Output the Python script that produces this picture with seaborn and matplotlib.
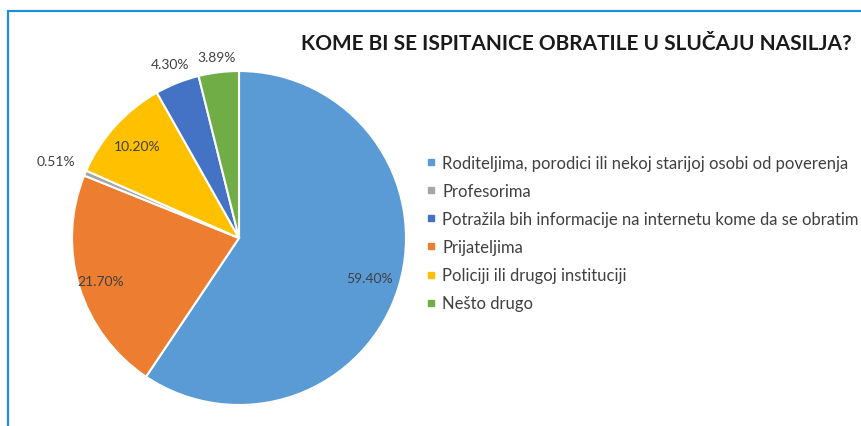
import numpy as np
import matplotlib
matplotlib.use("Agg")
import matplotlib.pyplot as plt
import seaborn as sns
from matplotlib.lines import Line2D
from matplotlib.patches import Rectangle

# data (pie order, clockwise from top)
categories = ["Roditeljima, porodici ili nekoj starijoj osobi od poverenja",
              "Prijateljima",
              "Profesorima",
              "Policiji ili drugoj instituciji",
              "Potražila bih informacije na internetu kome da se obratim",
              "Nešto drugo"]
values = [59.40, 21.70, 0.51, 10.20, 4.30, 3.89]
colors = ["#5B9BD5", "#ED7D31", "#A5A5A5", "#FFC000", "#4472C4", "#70AD47"]
label_radius = [0.82, 0.87, 1.19, 0.82, 1.12, 1.09]

# legend order
legend_order = [0, 2, 4, 1, 3, 5]

title = "KOME BI SE ISPITANICE OBRATILE U SLUČAJU NASILJA?"

sns.set_theme(style="white")
plt.rcParams["font.family"] = ["Lato", "DejaVu Sans"]

fig = plt.figure(figsize=(8.61, 4.27), dpi=100)
fig.patch.set_facecolor("white")

# frame around the chart
fig.patches.append(Rectangle((8 / 861, -0.1), 1.2, (427 - 12) / 427 + 0.1,
                             transform=fig.transFigure, fill=False,
                             edgecolor="#1E8ED8", linewidth=1.6))

ax = fig.add_axes([72 / 861, 21 / 427, 334 / 861, 334 / 427])
wedges, _ = ax.pie(values, colors=colors, startangle=90, counterclock=False,
                   wedgeprops=dict(edgecolor="white", linewidth=1.5))
ax.set_xlim(-1, 1)
ax.set_ylim(-1, 1)
ax.set_aspect("equal")
ax.axis("off")

for w, v, r in zip(wedges, values, label_radius):
    ang = np.deg2rad((w.theta1 + w.theta2) / 2)
    ax.text(r * np.cos(ang), r * np.sin(ang), f"{v:.2f}%",
            ha="center", va="center", fontsize=10, color="#404040",
            clip_on=False)

fig.text(852 / 861, 1 - 44 / 427, title, ha="right", va="center",
         fontsize=15, fontweight="bold", color="#1a1a1a")

handles = [Line2D([0], [0], marker="s", linestyle="", markersize=4,
                  markerfacecolor=colors[i], markeredgecolor=colors[i])
           for i in legend_order]
labels = [categories[i] for i in legend_order]
fig.legend(handles, labels, loc="upper left",
           bbox_to_anchor=(418 / 861, 1 - 148 / 427), frameon=False,
           fontsize=12, handlelength=0.6, handletextpad=0.35,
           labelspacing=0.72, labelcolor="#404040", borderpad=0)

fig.savefig("out.png", dpi=100, facecolor="white")
